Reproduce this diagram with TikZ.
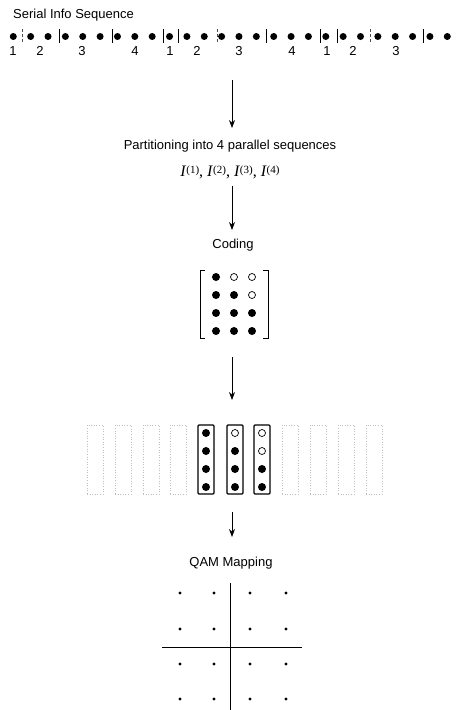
\documentclass[tikz,border=0pt]{standalone}
\usepackage{fontspec}
\setmainfont{Liberation Sans}
\newfontfamily\tms{Liberation Serif}
\usetikzlibrary{arrows.meta}
\begin{document}
\begin{tikzpicture}[x=1pt,y=-1pt,
  lbl/.style={font=\fontsize{13}{15}\selectfont, inner sep=0pt},
  fdot/.style={circle, fill=black, inner sep=0pt, minimum size=7pt},
  bdot/.style={circle, fill=black, inner sep=0pt, minimum size=8pt},
  odot/.style={circle, draw=black, line width=0.7pt, inner sep=0pt, minimum size=7pt},
  sdot/.style={circle, fill=black, inner sep=0pt, minimum size=3.4pt},
  sepbar/.style={line width=0.8pt},
  sepdash/.style={line width=0.5pt, densely dashed, black!70},
  flow/.style={line width=0.9pt, -{Stealth[length=8pt,width=6pt]}},
  colbox/.style={draw, line width=1.1pt, rounded corners=1pt, minimum width=16pt, minimum height=69pt, inner sep=0pt},
  ghost/.style={draw=black!25, dotted, line width=0.6pt, minimum width=16pt, minimum height=69pt, inner sep=0pt},
  axis/.style={line width=0.7pt}]
\useasboundingbox[fill=white] (0,0) rectangle (456,710);

% serial sequence
\node[lbl, anchor=west] (title) at (13,15) {Serial Info Sequence};
\foreach \i in {1,...,26}
  \node[fdot] (d\i) at ({13.3+17.36*(\i-1)},36.5) {};
\foreach \x in {59,112,163,178,266,320,337,423}
  \draw[sepbar] (\x,29) -- (\x,43);
\foreach \x in {22,217,370}
  \draw[sepdash] (\x,29) -- (\x,43);
\foreach \x/\t [count=\k] in {13/1,40/2,82/3,135/4,170/1,197/2,239/3,292/4,327/1,353/2,396/3}
  \node[lbl] (n\k) at (\x,51) {\t};

% partitioning
\coordinate (a1s) at (232,80);
\coordinate (a1e) at (232,128);
\draw[flow] (a1s) -- (a1e);
\node[lbl] (part) at (230,146) {Partitioning into 4 parallel sequences};
\node[font=\tms\fontsize{16}{18}\selectfont, inner sep=0pt] (seq) at (230,172)
  {\textit{I}\raisebox{3pt}{\fontsize{11}{13}\selectfont(1)}, \textit{I}\raisebox{3pt}{\fontsize{11}{13}\selectfont(2)}, \textit{I}\raisebox{3pt}{\fontsize{11}{13}\selectfont(3)}, \textit{I}\raisebox{3pt}{\fontsize{11}{13}\selectfont(4)}};

% coding
\coordinate (a2s) at (232,186);
\coordinate (a2e) at (232,230);
\draw[flow] (a2s) -- (a2e);
\node[lbl] (coding) at (233,245) {Coding};

% matrix
\foreach \c/\xx in {1/216,2/234,3/252}
  \foreach \r/\yy in {1/277,2/295,3/313,4/331}
    \coordinate (m\c\r) at (\xx,\yy);
\foreach \p in {m11,m12,m13,m14,m22,m23,m24,m33,m34}
  \node[bdot] at (\p) {};
\foreach \p in {m21,m31,m32}
  \node[odot] at (\p) {};
\draw[line width=0.8pt] (205,270) -- (200,270) -- (200,338) -- (205,338);
\draw[line width=0.8pt] (263,270) -- (268,270) -- (268,338) -- (263,338);

% columns
\coordinate (a3s) at (232,357);
\coordinate (a3e) at (232,400);
\draw[flow] (a3s) -- (a3e);
\foreach \x [count=\k] in {95,123,151,178,290,318,346,374}
  \node[ghost] (g\k) at (\x,459.5) {};
\node[colbox] (c1) at (206,459.5) {};
\node[colbox] (c2) at (235,459.5) {};
\node[colbox] (c3) at (262,459.5) {};
\foreach \y in {433,451,469,487} \node[bdot] at (206,\y) {};
\node[odot] at (235,433) {};
\foreach \y in {451,469,487} \node[bdot] at (235,\y) {};
\foreach \y in {433,451} \node[odot] at (262,\y) {};
\foreach \y in {469,487} \node[bdot] at (262,\y) {};

% QAM mapping
\coordinate (a4s) at (232,512);
\coordinate (a4e) at (232,537);
\draw[flow] (a4s) -- (a4e);
\node[lbl] (qam) at (231,563) {QAM Mapping};
\coordinate (vt) at (230,583);
\coordinate (vb) at (230,710);
\coordinate (hl) at (162,647);
\coordinate (hr) at (302,647);
\draw[axis] (vt) -- (vb);
\draw[axis] (hl) -- (hr);
\foreach \x in {180,214,250,286}
  \foreach \y in {593,629,664,699}
    \node[sdot] at (\x,\y) {};
\end{tikzpicture}
\end{document}
